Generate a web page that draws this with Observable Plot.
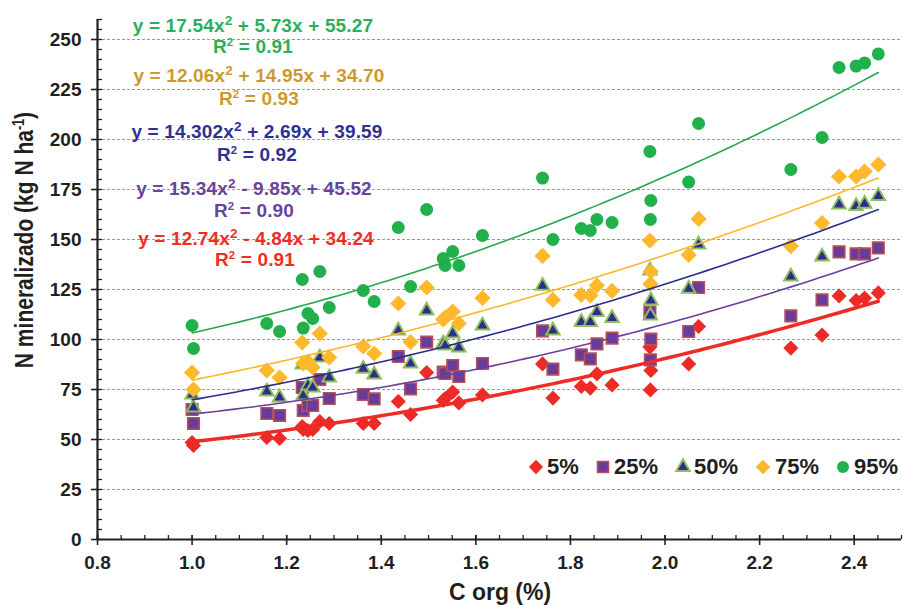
<!DOCTYPE html>
<html>
<head>
<meta charset="utf-8">
<script src="https://cdn.jsdelivr.net/npm/d3@7"></script>
<script src="https://cdn.jsdelivr.net/npm/@observablehq/plot@0.6"></script>
<style>
  body { margin: 0; background: #fff; font-family: "Liberation Sans", Arial, sans-serif; }
  #wrap { position: relative; width: 903px; height: 605px; overflow: hidden; }
  .lbl { position: absolute; font-weight: bold; white-space: nowrap; transform: translate(-50%, -50%); line-height: 1; }
  .eq { font-size: 19px; letter-spacing: 0.15px; }
  .eq sup { font-size: 0.72em; vertical-align: 0.45em; line-height: 0; }
  .r2 sup { font-size: 0.6em; vertical-align: 0.55em; line-height: 0; }
  .title { font-size: 22px; color: #231f20; }
  .leg { position: absolute; font-weight: bold; font-size: 22px; color: #231f20; line-height: 1; transform: translateY(-50%); }
  .legsym { position: absolute; transform: translate(-50%, -50%); }
</style>
</head>
<body>
<div id="wrap"></div>
<script>
// Organic carbon (%) of each soil sample
const cOrg = [1.000, 1.003, 1.158, 1.185, 1.233, 1.235, 1.245, 1.255, 1.270, 1.290,
  1.362, 1.385, 1.436, 1.462, 1.496, 1.531, 1.535, 1.551, 1.564, 1.614,
  1.741, 1.763, 1.823, 1.842, 1.856, 1.888, 1.968, 1.970, 1.969,
  2.050, 2.071, 2.266, 2.332, 2.368, 2.404, 2.422, 2.451];

// Mineralized N (kg N/ha) for each percentile
const p5 = [48.5, 47, 51, 50.5, 56.5, 55, 54.5, 55, 59, 58,
  58, 58, 69, 62.5, 83.5, 69.5, 70.5, 73.7, 68.3, 72.3,
  87.8, 70.7, 76.5, 75.7, 82.8, 77.3, 96.2, 84.5, 74.8,
  87.8, 106.5, 95.7, 102.2, 121.8, 119.5, 120.7, 123.3];
const p25 = [65, 58, 63, 62, 76, 64.5, 67, 67, 80, 70.5,
  72.5, 70.3, 91.5, 75.3, 98.7, 83.7, 83, 87, 81.5, 88,
  104.3, 85.2, 92.3, 90.3, 97.8, 100.7, 113.7, 100.2, 89.8,
  104, 126, 111.8, 119.8, 143.8, 142.8, 142.8, 145.8];
const p50 = [72.5, 66, 74, 71, 87.5, 72, 77, 76, 91, 81,
  85.3, 82.5, 104.5, 88, 114.5, 98, 97, 103, 96, 107,
  126.8, 104.5, 108.7, 108.7, 113.7, 110.7, 134.5, 119.5, 112,
  125.3, 147.5, 131.5, 141.5, 167.5, 166.7, 167.8, 171.7];
const p75 = [83.5, 75, 84.5, 81, 98.5, 88, 89, 86, 103, 91,
  96.5, 93, 118, 98.7, 126, 110, 111, 114, 108, 120.7,
  141.8, 119.8, 122.3, 122, 127, 124.3, 149.5, 134, 127.8,
  142.3, 160.3, 146.7, 158.2, 181.5, 181.5, 184, 187.5];
const p95 = [107, 95.5, 108, 104, 130, 105.7, 113, 110.5, 134, 116,
  124.5, 119, 156, 126.5, 165, 140.5, 137, 144, 137, 152,
  180.7, 150, 155.5, 154.5, 160, 158.5, 194, 169.5, 160,
  178.7, 208, 185, 201, 236, 236.7, 238.3, 242.8];

const seriesNames = ["5%", "25%", "50%", "75%", "95%"];
const seriesValues = [p5, p25, p50, p75, p95];
const equations = [
  "y = 12.74x<sup>2</sup> - 4.84x + 34.24",
  "y = 15.34x<sup>2</sup> - 9.85x + 45.52",
  "y = 14.302x<sup>2</sup> + 2.69x + 39.59",
  "y = 12.06x<sup>2</sup> + 14.95x + 34.70",
  "y = 17.54x<sup>2</sup> + 5.73x + 55.27"
];
const rSquared = ["0.91", "0.90", "0.92", "0.93", "0.91"];

const xTicks = [0.8, 1.0, 1.2, 1.4, 1.6, 1.8, 2.0, 2.2, 2.4];
const yTicks = [0, 25, 50, 75, 100, 125, 150, 175, 200, 225, 250];

// Marker and line styling per series
const styles = [
  {symbol: "diamond2", r: 6.8, fill: "#ec2a26", stroke: "none", sw: 0, line: "#ee2b24", lw: 3.5, text: "#ee2e24"},
  {symbol: "square", r: 6.5, fill: "#683c98", stroke: "#b4505a", sw: 1.6, line: "#6b3d9c", lw: 1.6, text: "#6a449c"},
  {symbol: "triangle", r: 5.0, fill: "#2e2d8f", stroke: "#8fbf5c", sw: 2, line: "#2b2a8f", lw: 1.6, text: "#2e3192"},
  {symbol: "diamond2", r: 7.3, fill: "#fdb92b", stroke: "none", sw: 0, line: "#fbb82a", lw: 1.6, text: "#cc9a2c"},
  {symbol: "circle", r: 6.5, fill: "#22b04d", stroke: "none", sw: 0, line: "#23a84f", lw: 1.6, text: "#2ab05a"}
];

// Least-squares second-order polynomial fit y = a x^2 + b x + c
function quadFit(xs, ys) {
  const S = [0, 0, 0, 0, 0], T = [0, 0, 0];
  xs.forEach((x, i) => {
    let p = 1;
    for (let k = 0; k < 5; k++) { S[k] += p; if (k < 3) T[k] += p * ys[i]; p *= x; }
  });
  // normal equations in terms of [c, b, a]
  const M = [[S[0], S[1], S[2], T[0]], [S[1], S[2], S[3], T[1]], [S[2], S[3], S[4], T[2]]];
  for (let i = 0; i < 3; i++) {
    for (let j = i + 1; j < 3; j++) {
      const f = M[j][i] / M[i][i];
      for (let k = i; k < 4; k++) M[j][k] -= f * M[i][k];
    }
  }
  const sol = [0, 0, 0];
  for (let i = 2; i >= 0; i--) {
    let s = M[i][3];
    for (let k = i + 1; k < 3; k++) s -= M[i][k] * sol[k];
    sol[i] = s / M[i][i];
  }
  return {c: sol[0], b: sol[1], a: sol[2]};
}

const points = [];
const trends = [];
const [xMin, xMax] = d3.extent(cOrg);
seriesValues.forEach((vals, s) => {
  vals.forEach((v, i) => points.push({series: s, x: cOrg[i], y: v}));
  const {a, b, c} = quadFit(cOrg, vals);
  const n = 80;
  for (let i = 0; i <= n; i++) {
    const x = xMin + (xMax - xMin) * i / n;
    trends.push({series: s, x, y: a * x * x + b * x + c});
  }
});

const axisColor = "#231f20";
const font = "Liberation Sans, Arial, sans-serif";

const marks = [
  Plot.gridY(yTicks.filter(d => d > 0), {stroke: "#7d9fd3", strokeOpacity: 1, strokeWidth: 1.1, strokeDasharray: "3,2"}),
  // minor ticks
  Plot.axisY(d3.range(0, 261, 5), {anchor: "left", tickSize: 5, dx: 5, tickFormat: () => "", stroke: axisColor, strokeWidth: 1.3, label: null}),
  Plot.axisX(d3.range(0.8, 2.501, 0.05), {anchor: "bottom", tickSize: 4, dy: -4, tickFormat: () => "", stroke: axisColor, strokeWidth: 1.3, label: null}),
  // major ticks and labels
  Plot.axisY(yTicks, {anchor: "left", tickSize: 6, tickPadding: 10, stroke: axisColor, strokeWidth: 1.6, fill: axisColor,
    fontSize: 19, fontWeight: "bold", fontFamily: font, label: null}),
  Plot.axisX(xTicks, {anchor: "bottom", tickSize: 10, dy: -4, tickFormat: () => "", stroke: axisColor, strokeWidth: 1.6, label: null}),
  Plot.axisX(xTicks, {anchor: "bottom", tickSize: 0, tickPadding: 16, tickFormat: d3.format(".1f"), fill: axisColor,
    fontSize: 19, fontWeight: "bold", fontFamily: font, label: null}),
  Plot.ruleX([0.8], {stroke: axisColor, strokeWidth: 2.2}),
  Plot.ruleY([0], {stroke: axisColor, strokeWidth: 2.2})
];

styles.forEach((st, s) => {
  marks.push(Plot.dot(points.filter(d => d.series === s), {
    x: "x", y: "y", symbol: st.symbol, r: st.r, fill: st.fill,
    stroke: st.stroke, strokeWidth: st.sw
  }));
});
styles.forEach((st, s) => {
  marks.push(Plot.line(trends.filter(d => d.series === s), {
    x: "x", y: "y", stroke: st.line, strokeWidth: st.lw, curve: "linear"
  }));
});

const chart = Plot.plot({
  width: 903,
  height: 605,
  marginLeft: 97,
  marginRight: 2,
  marginTop: 19,
  marginBottom: 66,
  x: {domain: [0.8, 2.5], axis: null},
  y: {domain: [0, 260], axis: null},
  style: {background: "#fff", overflow: "visible"},
  marks
});

const wrap = document.getElementById("wrap");
wrap.appendChild(chart);

function addLabel(html, cls, left, top, color, extra) {
  const d = document.createElement("div");
  d.className = cls;
  d.innerHTML = html;
  d.style.left = left + "px";
  d.style.top = top + "px";
  if (color) d.style.color = color;
  if (extra) Object.assign(d.style, extra);
  wrap.appendChild(d);
  return d;
}

// Trend-line equations, stacked from the top series down
const eqPos = [
  {x: 256, y: 238, rx: 255, ry: 259},
  {x: 254, y: 188, rx: 254, ry: 210},
  {x: 257, y: 131, rx: 257, ry: 154},
  {x: 259, y: 75, rx: 259, ry: 98},
  {x: 253, y: 25, rx: 253, ry: 46}
];
equations.forEach((eq, s) => {
  const p = eqPos[s];
  addLabel(eq, "lbl eq", p.x, p.y, styles[s].text);
  addLabel("R<sup>2</sup> = " + rSquared[s], "lbl eq r2", p.rx, p.ry, styles[s].text);
});

// Axis titles
addLabel("C org (%)", "lbl title", 500, 592, null, {fontSize: "23px"});
addLabel("N mineralizado (kg N ha<sup style=\"font-size:0.6em;vertical-align:0.6em;line-height:0\">-1</sup>)",
  "lbl title", 24, 240, null, {fontSize: "21px", transform: "translate(-50%, -50%) rotate(-90deg) scale(1, 1.25)"});

// Legend
const legSym = [536, 603, 683, 763, 843];
const legText = [547, 614, 694, 775, 854];
const legY = 467;
seriesNames.forEach((name, s) => {
  const st = styles[s];
  const size = 18;
  const svg = d3.create("svg").attr("width", size).attr("height", size).attr("class", "legsym")
    .style("left", legSym[s] + "px").style("top", legY + "px").style("overflow", "visible");
  const symbolType = {diamond2: d3.symbolDiamond2, square: d3.symbolSquare, triangle: d3.symbolTriangle, circle: d3.symbolCircle}[st.symbol];
  const scale = [0.95, 0.95, 1.0, 0.9, 0.92][s];
  svg.append("path")
    .attr("transform", `translate(${size / 2},${size / 2})`)
    .attr("d", d3.symbol(symbolType, Math.PI * (st.r * scale) ** 2)())
    .attr("fill", st.fill)
    .attr("stroke", st.stroke)
    .attr("stroke-width", st.sw);
  wrap.appendChild(svg.node());
  addLabel(name, "leg", legText[s], legY);
});
</script>
</body>
</html>
